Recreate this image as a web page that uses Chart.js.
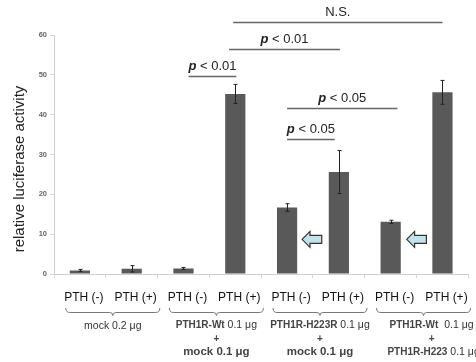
<!DOCTYPE html>
<html><head><meta charset="utf-8">
<script src="https://cdn.jsdelivr.net/npm/chart.js@4"></script>
<style>html,body{margin:0;padding:0;background:#fff;overflow:hidden}#wrap{width:476px;height:362px;position:relative}</style>
</head><body><div id="wrap"><canvas id="c"></canvas></div>
<script>
const categories = ["PTH (-)","PTH (+)","PTH (-)","PTH (+)","PTH (-)","PTH (+)","PTH (-)","PTH (+)"];
const values = [0.9, 1.3, 1.4, 45.2, 16.7, 25.6, 13.1, 45.6];
const errors = [0.25, 0.8, 0.25, 2.4, 0.95, 5.4, 0.4, 3.0];
const yTicks = [0, 10, 20, 30, 40, 50, 60];
const yTitle = "relative luciferase activity";
const groupFirst = [["mock 0.2 μg"], ["PTH1R-Wt", " 0.1 μg"], ["PTH1R-H223R", " 0.1 μg"], ["PTH1R-Wt", "  0.1 μg"]];
const groupSecond = [null, "mock 0.1 μg", "mock 0.1 μg", null];
const groupSecondBold = [null, null, null, ["PTH1R-H223", " 0.1 μg"]];
const groupTextShift = [0, 0, 0, 8];
const sigLabels = ["p < 0.01", "p < 0.01", "N.S.", "p < 0.05", "p < 0.05"];
const sigFrom = [2.1, 2.88, 2.96, 4.0, 4.0];
const sigTo = [3.02, 5.02, 7.0, 6.13, 4.92];
const sigLevel = [49.7, 56.5, 63.3, 41.7, 33.9];
const arrowFrom = [4.29, 6.31];
const arrowTo = [4.67, 6.69];
const arrowLevel = [8.7, 8.7];

const FONT = "'Liberation Sans', Arial, sans-serif";

function drawSegs(ctx, segs, cx, cy) {
  let total = 0;
  segs.forEach(s => { ctx.font = s[1]; total += ctx.measureText(s[0]).width; });
  let xx = cx - total / 2;
  ctx.textAlign = 'left';
  segs.forEach(s => { ctx.font = s[1]; ctx.fillStyle = s[2] || '#333'; ctx.fillText(s[0], xx, cy); xx += ctx.measureText(s[0]).width; });
}

const overlay = {
  id: 'overlay',
  afterDatasetsDraw(chart) {
    const {ctx, scales: {x, y}} = chart;
    ctx.save();
    ctx.strokeStyle = '#222'; ctx.lineWidth = 1;
    values.forEach((v, i) => {
      const px = Math.round(x.getPixelForValue(i)) + 0.5;
      const t = y.getPixelForValue(v + errors[i]), b = y.getPixelForValue(v - errors[i]);
      ctx.beginPath();
      ctx.moveTo(px, t); ctx.lineTo(px, b);
      ctx.moveTo(px - 2, t); ctx.lineTo(px + 2, t);
      ctx.moveTo(px - 2, b); ctx.lineTo(px + 2, b);
      ctx.stroke();
    });
    ctx.textBaseline = 'middle';
    sigLabels.forEach((lab, i) => {
      const x1 = x.getPixelForValue(sigFrom[i]), x2 = x.getPixelForValue(sigTo[i]);
      const ly = Math.round(y.getPixelForValue(sigLevel[i])) + 0.5;
      ctx.strokeStyle = '#666'; ctx.lineWidth = 1.5;
      ctx.beginPath(); ctx.moveTo(x1, ly); ctx.lineTo(x2, ly); ctx.stroke();
      const cx = (x1 + x2) / 2;
      if (lab.startsWith('p')) {
        drawSegs(ctx, [["p", "italic bold 13px " + FONT, '#222'], [lab.slice(1), "13px " + FONT, '#222']], cx, ly - 10);
      } else {
        drawSegs(ctx, [[lab, "13px " + FONT, '#222']], cx, ly - 10);
      }
    });
    arrowFrom.forEach((f, i) => {
      const xl = x.getPixelForValue(f), xr = x.getPixelForValue(arrowTo[i]);
      const cy = y.getPixelForValue(arrowLevel[i]);
      const hh = 8, th = 4, hw = (xr - xl) * 0.4;
      ctx.beginPath();
      ctx.moveTo(xl, cy);
      ctx.lineTo(xl + hw, cy - hh);
      ctx.lineTo(xl + hw, cy - th);
      ctx.lineTo(xr, cy - th);
      ctx.lineTo(xr, cy + th);
      ctx.lineTo(xl + hw, cy + th);
      ctx.lineTo(xl + hw, cy + hh);
      ctx.closePath();
      ctx.fillStyle = '#c2e3e9'; ctx.fill();
      ctx.strokeStyle = '#333'; ctx.lineWidth = 1.2; ctx.stroke();
    });
    ctx.restore();
  },
  afterDraw(chart) {
    const {ctx, scales: {x}} = chart;
    ctx.save();
    ctx.translate(20, 169);
    ctx.rotate(-Math.PI / 2);
    ctx.textBaseline = 'middle';
    drawSegs(ctx, [[yTitle, "15px " + FONT, '#222']], 0, 0);
    ctx.restore();
    ctx.save();
    const base = x.top;
    groupFirst.forEach((g, gi) => {
      const c = (x.getPixelForValue(gi * 2) + x.getPixelForValue(gi * 2 + 1)) / 2 + 7;
      const half = 47;
      const yl = Math.round(base + 38) + 0.5, ye = base + 34;
      ctx.strokeStyle = '#777'; ctx.lineWidth = 1;
      ctx.beginPath();
      ctx.moveTo(c - half, ye);
      ctx.quadraticCurveTo(c - half, yl, c - half + 4, yl);
      ctx.lineTo(c - 3, yl);
      ctx.quadraticCurveTo(c, yl, c, yl + 3);
      ctx.quadraticCurveTo(c, yl, c + 3, yl);
      ctx.lineTo(c + half - 4, yl);
      ctx.quadraticCurveTo(c + half, yl, c + half, ye);
      ctx.stroke();
      ctx.textBaseline = 'middle';
      const tc = c + groupTextShift[gi];
      if (gi === 0) {
        drawSegs(ctx, [[g[0], "10.5px " + FONT, '#333']], tc, base + 52);
      } else {
        drawSegs(ctx, [[g[0], "bold 10px " + FONT, '#444'], [g[1], "10.5px " + FONT, '#333']], tc, base + 51);
        drawSegs(ctx, [["+", "bold 10px " + FONT, '#444']], tc, base + 65);
        if (groupSecond[gi]) {
          drawSegs(ctx, [[groupSecond[gi], "bold 11.5px " + FONT, '#444']], tc, base + 78);
        } else if (groupSecondBold[gi]) {
          const s = groupSecondBold[gi];
          drawSegs(ctx, [[s[0], "bold 10px " + FONT, '#444'], [s[1], "10.5px " + FONT, '#333']], tc + 2, base + 78);
        }
      }
    });
    ctx.restore();
  }
};

new Chart(document.getElementById('c'), {
  type: 'bar',
  data: {
    labels: categories,
    datasets: [{
      data: values,
      backgroundColor: '#595959',
      borderWidth: 0,
      barPercentage: 0.39,
      categoryPercentage: 1.0
    }]
  },
  options: {
    responsive: true,
    maintainAspectRatio: false,
    animation: false,
    devicePixelRatio: 1,
    layout: {padding: {top: 35, right: 6, left: 0, bottom: 0}},
    plugins: {legend: {display: false}, tooltip: {enabled: false}},
    scales: {
      x: {
        afterFit: s => { s.height = 88; },
        border: {color: '#cfcfcf', width: 1},
        grid: {offset: true, drawOnChartArea: false, tickLength: 4, color: '#d6d6d6'},
        ticks: {font: {family: FONT, size: 12}, color: '#111', padding: 12, labelOffset: 4, maxRotation: 0, autoSkip: false}
      },
      y: {
        min: 0, max: 60,
        afterFit: s => { s.width = 54; },
        afterBuildTicks: s => { s.ticks = yTicks.map(v => ({value: v})); },
        border: {color: '#cfcfcf', width: 1},
        grid: {drawOnChartArea: false, tickLength: 4, color: '#d6d6d6'},
        ticks: {font: {family: FONT, size: 7.5, weight: 'bold'}, color: '#666', padding: 3},
        title: {display: false, text: yTitle}
      }
    }
  },
  plugins: [overlay]
});
</script></body></html>
